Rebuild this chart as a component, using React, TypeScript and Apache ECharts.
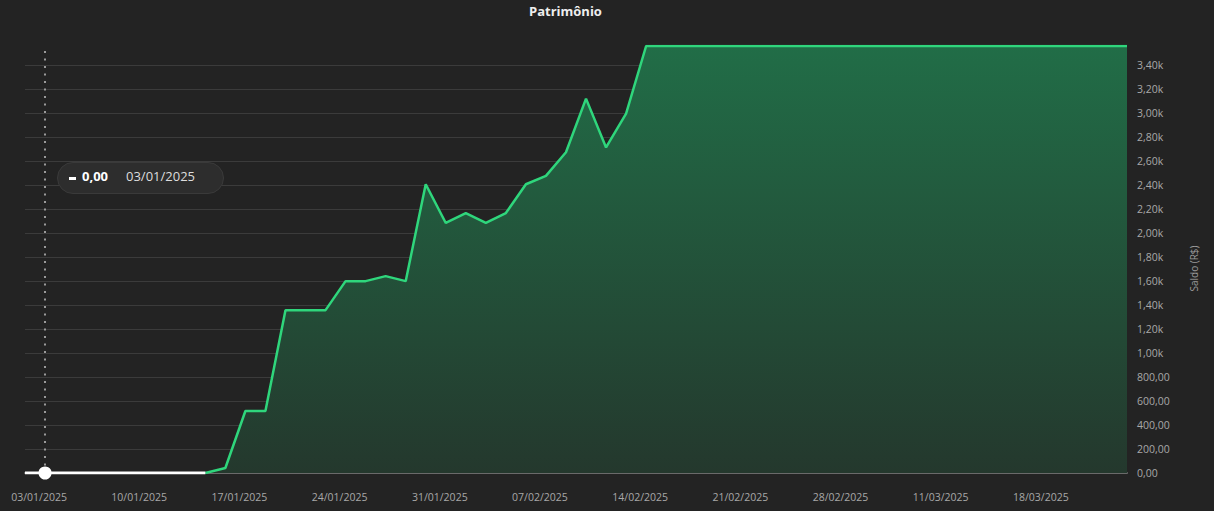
import React, { useEffect, useRef } from 'react';
import * as echarts from 'echarts';

const dates: string[] = [
  '02/01/2025', '03/01/2025', '06/01/2025', '07/01/2025', '08/01/2025', '09/01/2025',
  '10/01/2025', '13/01/2025', '14/01/2025', '15/01/2025', '16/01/2025', '17/01/2025',
  '20/01/2025', '21/01/2025', '22/01/2025', '23/01/2025', '24/01/2025', '27/01/2025',
  '28/01/2025', '29/01/2025', '30/01/2025', '31/01/2025', '03/02/2025', '04/02/2025',
  '05/02/2025', '06/02/2025', '07/02/2025', '10/02/2025', '11/02/2025', '12/02/2025',
  '13/02/2025', '14/02/2025', '17/02/2025', '18/02/2025', '19/02/2025', '20/02/2025',
  '21/02/2025', '24/02/2025', '25/02/2025', '26/02/2025', '27/02/2025', '28/02/2025',
  '05/03/2025', '06/03/2025', '07/03/2025', '10/03/2025', '11/03/2025', '12/03/2025',
  '13/03/2025', '14/03/2025', '17/03/2025', '18/03/2025', '19/03/2025', '20/03/2025',
  '21/03/2025', '24/03/2025',
];

const saldo: number[] = [
  0, 0, 0, 0, 0, 0, 0, 0, 0, 0,
  42, 517, 517, 1358, 1358, 1358, 1600, 1600, 1642, 1600,
  2408, 2085, 2168, 2085, 2168, 2408, 2478, 2675, 3122, 2715,
  2997, 3561, 3561, 3561, 3561, 3561, 3561, 3561, 3561, 3561,
  3561, 3561, 3561, 3561, 3561, 3561, 3561, 3561, 3561, 3561,
  3561, 3561, 3561, 3561, 3561, 3561,
];

const title = 'Patrimônio';
const axisName = 'Saldo (R$)';
const hoverIndex = 1;

const FONT = 'Open Sans';

const fmtBR = (v: number): string => {
  if (Math.abs(v) >= 1000) return (v / 1000).toFixed(2).replace('.', ',') + 'k';
  return v.toFixed(2).replace('.', ',');
};

export default function App() {
  const ref = useRef<HTMLDivElement>(null);

  useEffect(() => {
    document.body.style.margin = '0';
    document.body.style.background = '#232323';
    if (!ref.current) return;
    const chart = echarts.init(ref.current, null, { renderer: 'svg' });

    const firstPos = saldo.findIndex((v) => v > 0);
    const split = firstPos > 0 ? firstPos - 1 : 0;

    const option: any = {
      animation: false,
      backgroundColor: '#232323',
      title: {
        text: title,
        left: 529,
        top: 4,
        padding: 0,
        textStyle: { color: '#eeeeee', fontSize: 13, fontWeight: 'bold', fontFamily: FONT },
      },
      grid: { left: 25, right: 87, top: 46, bottom: 38 },
      xAxis: {
        type: 'category',
        data: dates,
        boundaryGap: false,
        axisLine: { show: true, lineStyle: { color: '#6a6a6a', width: 2 } },
        axisTick: { show: false },
        splitLine: { show: false },
        axisLabel: {
          color: '#a8a8a8',
          fontSize: 10.5,
          fontFamily: FONT,
          margin: 18,
          padding: [0, 12, 0, 0],
          interval: (index: number) => index >= 1 && (index - 1) % 5 === 0,
        },
      },
      yAxis: {
        type: 'value',
        position: 'right',
        min: 0,
        max: 'dataMax',
        interval: 200,
        name: axisName,
        nameLocation: 'middle',
        nameRotate: 90,
        nameGap: 62,
        nameTextStyle: { color: '#9a9a9a', fontSize: 10, fontFamily: FONT, padding: [0, 18, 0, 0] },
        axisLine: { show: false },
        axisTick: { show: false },
        splitLine: { show: true, showMaxLine: false, lineStyle: { color: '#3b3b3b', width: 1 } },
        axisLabel: {
          color: '#a8a8a8',
          fontSize: 10.5,
          fontFamily: FONT,
          margin: 10,
          formatter: (v: number) => (Math.round(v) % 200 === 0 ? fmtBR(v) : ''),
        },
      },
      series: [
        {
          type: 'line',
          name: 'saldo',
          data: saldo.map((v, i) => (i >= split ? v : null)),
          showSymbol: false,
          connectNulls: false,
          lineStyle: { color: '#2fd67c', width: 2.5 },
          itemStyle: { color: '#2fd67c' },
          areaStyle: {
            color: new echarts.graphic.LinearGradient(0, 0, 0, 1, [
              { offset: 0, color: '#216d47' },
              { offset: 1, color: '#24382d' },
            ]),
            opacity: 1,
          },
          z: 2,
        },
        {
          type: 'line',
          name: 'zero',
          data: saldo.map((v, i) => (i <= split ? v : null)),
          showSymbol: false,
          connectNulls: false,
          lineStyle: { color: '#ffffff', width: 3 },
          itemStyle: { color: '#ffffff' },
          z: 3,
          markLine: {
            silent: true,
            symbol: ['none', 'none'],
            label: { show: false },
            lineStyle: { color: '#9a9a9a', type: [2, 5.5], width: 2 },
            data: [{ xAxis: dates[hoverIndex] }],
          },
          markPoint: {
            silent: true,
            symbol: 'circle',
            symbolSize: 11,
            itemStyle: { color: '#ffffff', borderColor: '#ffffff' },
            label: { show: false },
            data: [{ coord: [dates[hoverIndex], saldo[hoverIndex]] }],
          },
        },
      ],
      graphic: [
        {
          type: 'rect',
          left: 57,
          top: 162,
          z: 100,
          shape: { width: 166, height: 31, r: 15.5 },
          style: { fill: '#2d2d2d', stroke: '#3a3a3a', lineWidth: 1 },
        },
        {
          type: 'rect',
          left: 69,
          top: 177,
          z: 101,
          shape: { width: 7, height: 3 },
          style: { fill: '#ffffff' },
        },
        {
          type: 'text',
          left: 82,
          top: 169,
          z: 101,
          style: {
            text: fmtBR(saldo[hoverIndex]),
            fill: '#ffffff',
            font: `bold 13px "${FONT}"`,
          },
        },
        {
          type: 'text',
          left: 126,
          top: 169,
          z: 101,
          style: {
            text: dates[hoverIndex],
            fill: '#dddddd',
            font: `13px "${FONT}"`,
          },
        },
      ],
    };

    chart.setOption(option);
    return () => chart.dispose();
  }, []);

  return <div ref={ref} style={{ width: 1214, height: 511 }} />;
}
